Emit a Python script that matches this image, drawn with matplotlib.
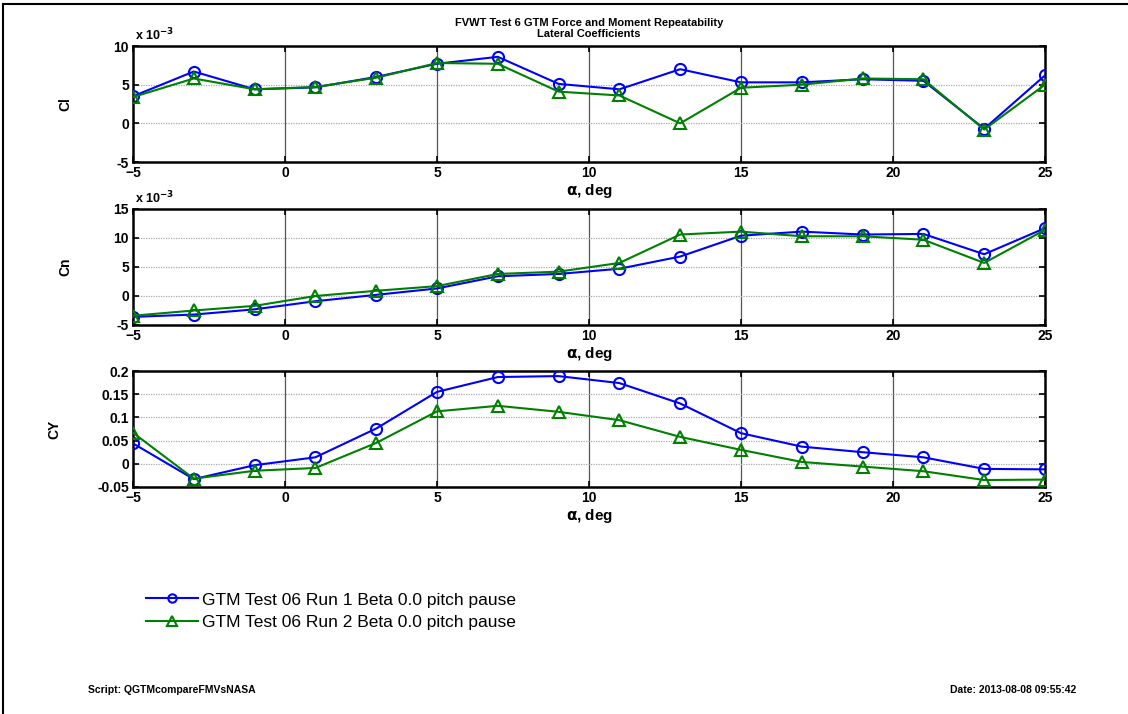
import numpy as np
import matplotlib
matplotlib.use('Agg')
import matplotlib.pyplot as plt
from matplotlib.lines import Line2D

plt.rcParams['font.family'] = ['Liberation Sans', 'DejaVu Sans']

# Angle of attack sweep
alpha = [-5, -3, -1, 1, 3, 5, 7, 9, 11, 13, 15, 17, 19, 21, 23, 25]

# Rolling moment coefficient (x 1e-3)
cl_run1 = [3.5, 6.7, 4.4, 4.65, 6.0, 7.7, 8.6, 5.1, 4.4, 7.0, 5.3, 5.3, 5.7, 5.5, -0.7, 6.2]
cl_run2 = [3.4, 5.8, 4.4, 4.7, 5.9, 7.8, 7.7, 4.1, 3.6, 0.0, 4.6, 5.0, 5.8, 5.7, -0.8, 5.0]

# Yawing moment coefficient (x 1e-3)
cn_run1 = [-3.6, -3.2, -2.3, -0.9, 0.2, 1.3, 3.4, 3.8, 4.7, 6.8, 10.4, 11.1, 10.6, 10.7, 7.2, 11.7]
cn_run2 = [-3.4, -2.5, -1.7, 0.0, 0.9, 1.7, 3.8, 4.2, 5.7, 10.6, 11.1, 10.3, 10.3, 9.7, 5.7, 11.4]

# Side force coefficient
cy_run1 = [0.044, -0.033, -0.003, 0.014, 0.076, 0.155, 0.187, 0.189, 0.174, 0.130,
           0.066, 0.037, 0.025, 0.014, -0.011, -0.012]
cy_run2 = [0.067, -0.032, -0.015, -0.009, 0.045, 0.113, 0.125, 0.112, 0.094, 0.058,
           0.030, 0.004, -0.006, -0.016, -0.035, -0.034]

run_labels = ['GTM Test 06 Run 1 Beta 0.0 pitch pause',
              'GTM Test 06 Run 2 Beta 0.0 pitch pause']

W, H = 1128, 714
fig = plt.figure(figsize=(W / 100, H / 100), dpi=100)

# page frame (left and top edges)
fig.add_artist(Line2D([3 / W, 3 / W], [0, 1 - 4 / H], color='black', lw=1.5))
fig.add_artist(Line2D([3 / W, 1], [1 - 4 / H, 1 - 4 / H], color='black', lw=1.5))

left, right = 133, 1045
panels = [
    (46, cl_run1, cl_run2, 'Cl', (-5, 10), [-5, 0, 5, 10], ['-5', '0', '5', '10'], True),
    (209, cn_run1, cn_run2, 'Cn', (-5, 15), [-5, 0, 5, 10, 15], ['-5', '0', '5', '10', '15'], True),
    (371, cy_run1, cy_run2, 'CY', (-0.05, 0.2), [-0.05, 0, 0.05, 0.1, 0.15, 0.2],
     ['-0.05', '0', '0.05', '0.1', '0.15', '0.2'], False),
]
ax_h = 116

for top, y1, y2, name, ylim, yt, ytl, scaled in panels:
    ax = fig.add_axes([left / W, 1 - (top + ax_h) / H, (right - left) / W, ax_h / H])
    ax.plot(alpha, y1, '-o', color='#0000ff', lw=1.5, ms=8, mfc='none', mew=1.5, zorder=3)
    ax.plot(alpha, y2, '-^', color='#008000', lw=1.5, ms=9, mfc='none', mew=1.5, zorder=3)
    ax.set_xlim(-5, 25)
    ax.set_ylim(*ylim)
    ax.set_xticks([-5, 0, 5, 10, 15, 20, 25])
    ax.set_yticks(yt)
    ax.set_yticklabels(ytl)
    # vertical grid solid dark, horizontal grid light dotted
    for xv in [0, 5, 10, 15, 20]:
        ax.axvline(xv, color='#555555', lw=0.9, zorder=1)
    for yv in yt[1:-1]:
        ax.axhline(yv, color='#aaaaaa', lw=0.9, ls=(0, (1, 1)), zorder=1)
    ax.tick_params(direction='in', top=True, right=True, length=4, width=1.2,
                   labelsize=10, pad=3)
    for lab in ax.get_xticklabels() + ax.get_yticklabels():
        lab.set_fontweight('bold')
    for sp in ax.spines.values():
        sp.set_linewidth(1.8)
    ax.set_xlabel(r'$\mathbf{\alpha}$, deg', fontsize=11, fontweight='bold', labelpad=1)
    ax.set_ylabel(name, fontsize=10, fontweight='bold')
    ax.yaxis.set_label_coords(-0.066 if scaled else -0.078, 0.5)
    if scaled:
        ax.text(0.002, 1.02, r'x 10$^{\mathbf{-3}}$', transform=ax.transAxes,
                fontsize=9, fontweight='bold', va='bottom', ha='left')

fig.text(589 / W, 1 - 23 / H, 'FVWT Test 6 GTM Force and Moment Repeatability',
         ha='center', va='center', fontsize=8, fontweight='bold')
fig.text(589 / W, 1 - 34 / H, 'Lateral Coefficients',
         ha='center', va='center', fontsize=8, fontweight='bold')

handles = [
    Line2D([], [], color='#0000ff', lw=1.5, marker='o', ms=6, mfc='none', mew=1.5),
    Line2D([], [], color='#008000', lw=1.5, marker='^', ms=7, mfc='none', mew=1.5),
]
fig.legend(handles, run_labels, loc='center left', bbox_to_anchor=(146 / W, 1 - 611 / H),
           frameon=False, fontsize=12.5, handlelength=3.0, handletextpad=0.2,
           labelspacing=0.4, borderaxespad=0, borderpad=0)

fig.text(88 / W, 1 - 690 / H, 'Script: QGTMcompareFMVsNASA',
         ha='left', va='center', fontsize=7.5, fontweight='bold')
fig.text(1076 / W, 1 - 690 / H, 'Date: 2013-08-08 09:55:42',
         ha='right', va='center', fontsize=7.5, fontweight='bold')

fig.savefig('out.png', dpi=100, facecolor='white')
